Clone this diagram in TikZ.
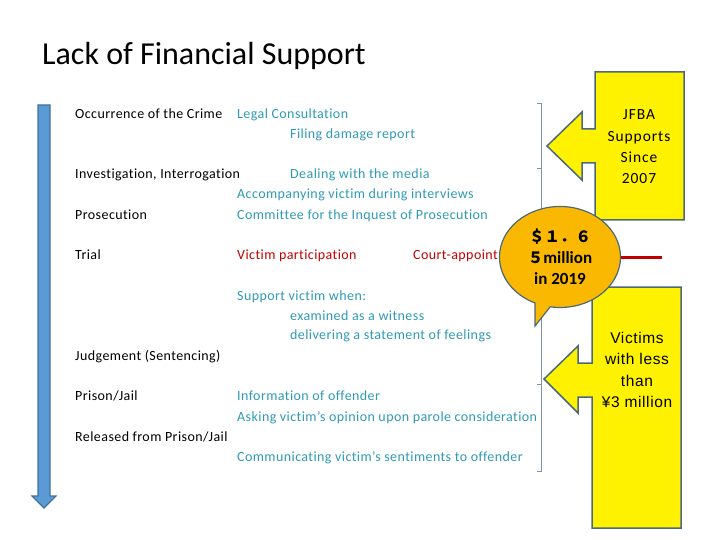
\documentclass[tikz,border=0pt]{standalone}
\usepackage{fontspec}
\setmainfont{Carlito}[Ligatures=NoCommon]
\newfontfamily\bodyfont{Carlito}[LetterSpace=3, Ligatures=NoCommon]
\newfontfamily\spacedfont{Carlito}[LetterSpace=6, Ligatures=NoCommon]
\newfontfamily\cjk{Noto Sans CJK JP}
\newfontfamily\gothfont{Liberation Sans}[LetterSpace=4]
\usepackage{tikz}
\usetikzlibrary{shapes.callouts}
\usepackage{xcolor}
\definecolor{textteal}{RGB}{46,154,182}
\definecolor{textred}{RGB}{192,0,0}
\definecolor{flowblue}{RGB}{91,155,213}
\definecolor{flowblueline}{RGB}{65,113,156}
\definecolor{calloutline}{RGB}{75,105,120}
\definecolor{bubbleorange}{RGB}{250,185,0}
\definecolor{bracketgray}{RGB}{125,150,170}

\begin{document}
\begin{tikzpicture}[x=1pt, y=-1pt,
    stage/.style={anchor=base west, inner sep=0pt, font=\bodyfont\fontsize{14}{17}\selectfont},
    help/.style={stage, text=textteal},
    helpred/.style={stage, text=textred},
    callout/.style={fill=yellow, draw=calloutline, line width=1.5pt, line join=miter}]
  \useasboundingbox (0,0) rectangle (720,540);
  \node[anchor=base west, inner sep=0pt, font=\fontsize{32}{38}\selectfont] (title) at (42,65) {Lack of Financial Support};

  % time line
  \draw[fill=flowblue, draw=flowblueline, line width=1.2pt]
    (38,105) -- (50,105) -- (50,496) -- (56,496) -- (44,508) -- (32,496) -- (38,496) -- cycle;

  % stages
  \node[stage] (crime) at (75,118.5) {Occurrence of the Crime};
  \node[stage] (investigation) at (75,178.5) {Investigation, Interrogation};
  \node[stage] (prosecution) at (75,219) {Prosecution};
  \node[stage] (trial) at (75,259) {Trial};
  \node[stage] (judgement) at (75,360) {Judgement (Sentencing)};
  \node[stage] (prison) at (75,400) {Prison/Jail};
  \node[stage] (released) at (75,441) {Released from Prison/Jail};

  % support given at each stage
  \node[help] (consult) at (237,118.5) {Legal Consultation};
  \node[help] (report) at (290,138.5) {Filing damage report};
  \node[help] (media) at (290,178.5) {Dealing with the media};
  \node[help] (accompany) at (237,198.5) {Accompanying victim during interviews};
  \node[help] (inquest) at (237,219) {Committee for the Inquest of Prosecution};
  \node[helpred] (participation) at (237,259) {Victim participation};
  \node[helpred] (court) at (413,259) {Court-appoint};
  \node[help] (whensupport) at (237,300) {Support victim when:};
  \node[help] (witness) at (290,320) {examined as a witness};
  \node[help] (feelings) at (290,339.5) {delivering a statement of feelings};
  \node[help] (offender) at (237,400) {Information of offender};
  \node[help] (parole) at (237,421) {Asking victim’s opinion upon parole consideration};
  \node[help] (sentiments) at (237,461) {Communicating victim’s sentiments to offender};

  % bracket
  \draw[bracketgray, line width=0.8pt] (537,103) -- (541,103) -- (541,471) -- (537,471);
  \foreach \y in {168,384} {
    \draw[bracketgray, line width=0.8pt] (537,\y) -- (541,\y);
  }

  % JFBA callout
  \draw[callout] (595,72) -- (684,72) -- (684,220) -- (595,220) -- (595,163) -- (582,163)
    -- (582,180) -- (547,146) -- (582,112) -- (582,129) -- (595,129) -- cycle;
  \node[align=center, inner sep=0pt, font=\spacedfont\fontsize{15.5}{21.3}\selectfont] (jfba) at (639,147)
    {JFBA\\Supports\\Since\\2007};

  % victims callout
  \draw[callout] (592,287) -- (681,287) -- (681,528) -- (592,528) -- (592,397) -- (578,397)
    -- (578,413) -- (544,379) -- (578,346) -- (578,363) -- (592,363) -- cycle;
  \node[align=center, inner sep=0pt, font=\gothfont\fontsize{15.5}{21.3}\selectfont] (victims) at (637,370)
    {Victims\\with less\\than\\¥3 million};

  % budget bubble
  \node[ellipse callout, fill=bubbleorange, draw=calloutline, line width=1.2pt,
    minimum width=121pt, minimum height=101pt, inner sep=0pt,
    callout absolute pointer={(535,326)}, align=center,
    font=\bfseries\fontsize{17}{21}\selectfont] (bubble) at (560,257)
    {{\cjk\bfseries\fontsize{15.5}{21}\selectfont ＄１．６}\\{\cjk\bfseries\fontsize{15.5}{21}\selectfont ５}million\\in 2019};
  \coordinate (redend) at (662,257);
  \draw[textred, line width=3pt] (bubble.east) -- (redend);
\end{tikzpicture}
\end{document}
